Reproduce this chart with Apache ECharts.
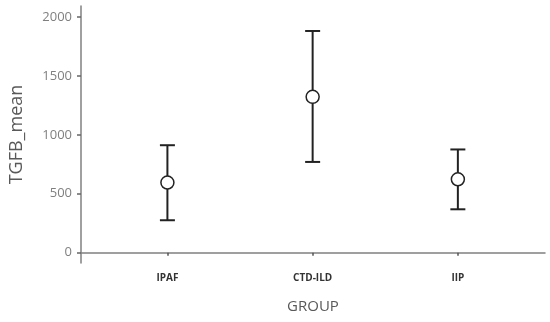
<!DOCTYPE html>
<html>
<head>
    <meta charset="utf-8"/>
    <script src="https://cdn.jsdelivr.net/npm/echarts@6/dist/echarts.min.js"></script>
    <style>
        html, body { margin: 0; padding: 0; background: #fff; }
        #main { width: 550px; height: 322px; }
    </style>
</head>
<body>
<div id="main"></div>
<script>
    // 分组与数据
    var groups = ['IPAF', 'CTD-ILD', 'IIP'];
    var meanValues = [595, 1323, 623];
    var lowerValues = [275, 770, 368];
    var upperValues = [912, 1882, 876];
    var yTicks = [0, 500, 1000, 1500, 2000];
    var xPos = [1, 2, 3];

    var chart = echarts.init(document.getElementById('main'));

    var barData = groups.map(function (g, i) {
        return [xPos[i], lowerValues[i], upperValues[i]];
    });
    var meanData = groups.map(function (g, i) {
        return [xPos[i], meanValues[i]];
    });

    var option = {
        animation: false,
        grid: { left: 77, right: 5, top: 6, bottom: 59 },
        xAxis: {
            type: 'value',
            min: 0.405,
            max: 3.6,
            name: 'GROUP',
            nameLocation: 'middle',
            nameGap: 36,
            nameTextStyle: { color: '#595959', fontSize: 15, fontFamily: 'Open Sans' },
            axisLine: { show: true, lineStyle: { color: '#808080', width: 1.5 } },
            axisTick: { show: true, customValues: xPos, length: 3, lineStyle: { color: '#555', width: 1.5 } },
            axisLabel: {
                customValues: xPos,
                margin: 10,
                color: '#333',
                fontSize: 10,
                fontWeight: 'bold',
                fontFamily: 'Open Sans',
                formatter: function (v) { return groups[Math.round(v) - 1]; }
            },
            splitLine: { show: false }
        },
        yAxis: {
            type: 'value',
            min: -88,
            max: 2094,
            name: 'TGFB_mean',
            nameLocation: 'middle',
            nameGap: 55,
            nameTextStyle: { color: '#595959', fontSize: 18, fontFamily: 'Open Sans' },
            axisLine: { show: true, lineStyle: { color: '#808080', width: 1.5 } },
            axisTick: { show: true, customValues: yTicks, length: 4, lineStyle: { color: '#666', width: 1.5 } },
            axisLabel: {
                customValues: yTicks,
                margin: 9,
                color: '#7f7f7f',
                fontSize: 13,
                fontFamily: 'Open Sans',
                formatter: function (v) { return String(v); }
            },
            splitLine: { show: false }
        },
        series: [
            {
                type: 'custom',
                data: barData,
                renderItem: function (params, api) {
                    var x = api.value(0);
                    var lo = api.coord([x, api.value(1)]);
                    var hi = api.coord([x, api.value(2)]);
                    var half = 7.5;
                    var style = { stroke: '#222', lineWidth: 2 };
                    return {
                        type: 'group',
                        children: [
                            { type: 'line', shape: { x1: hi[0], y1: hi[1], x2: lo[0], y2: lo[1] }, style: style },
                            { type: 'line', shape: { x1: hi[0] - half, y1: hi[1], x2: hi[0] + half, y2: hi[1] }, style: style },
                            { type: 'line', shape: { x1: lo[0] - half, y1: lo[1], x2: lo[0] + half, y2: lo[1] }, style: style }
                        ]
                    };
                },
                z: 2
            },
            {
                type: 'scatter',
                data: meanData,
                symbol: 'circle',
                symbolSize: 13,
                itemStyle: { color: '#fff', borderColor: '#222', borderWidth: 1.5, opacity: 1 },
                z: 3
            }
        ]
    };

    chart.setOption(option);
</script>
</body>
</html>
